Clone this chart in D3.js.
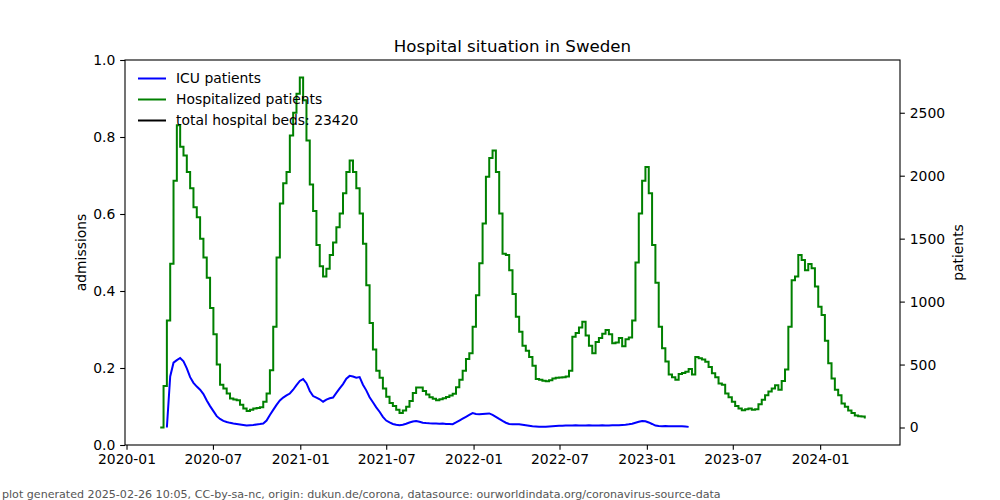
<!DOCTYPE html>
<html><head><meta charset="utf-8">
<script src="https://cdn.jsdelivr.net/npm/d3@7"></script>
<style>body{margin:0;background:#fff} svg{display:block;font-family:"DejaVu Sans",sans-serif}</style>
</head><body><svg id="c" width="1000" height="500"></svg>
<script>
// ---- data (weekly values) ----
const hospStart = "2020-03-12";
const hospitalized = [
0,330,850,1300,1960,2400,2230,2160,2030,1900,
1750,1670,1500,1350,1190,950,740,500,340,310,
270,230,222,217,180,150,132,140,151,155,
160,205,270,455,800,1350,1780,1940,2030,2320,
2500,2650,2780,2600,2280,1930,1720,1450,1280,1200,
1260,1370,1470,1590,1700,1860,2030,2120,2030,1900,
1700,1460,1130,830,620,450,395,310,245,195,
170,140,115,135,165,210,275,318,318,290,
262,240,228,217,225,232,242,255,268,320,
380,450,545,590,800,1050,1304,1620,1992,2140,
2200,2030,1700,1380,1370,1250,1060,880,760,650,
610,560,490,385,380,372,368,375,390,395,
398,400,405,450,720,750,795,840,730,650,
590,680,710,745,774,740,670,675,710,646,
700,715,850,1310,1700,1960,2070,1860,1450,1150,
800,630,525,420,400,380,424,432,442,465,
420,560,550,540,522,480,430,400,350,340,
270,240,205,170,150,138,145,150,140,145,
185,220,257,285,310,336,300,370,460,800,
1170,1200,1370,1330,1250,1298,1264,1120,960,893,
690,510,390,300,257,191,164,135,115,95,
90,88,72];
const icuStart = "2020-03-26";
const icu = [
0,405,515,535,552,525,470,400,355,325,
300,265,215,170,130,90,68,52,44,37,
32,28,24,20,16,18,20,24,27,32,
55,100,140,180,215,238,255,270,300,336,
370,385,352,290,250,237,224,205,222,232,
238,275,310,345,388,410,405,395,400,340,
295,240,200,160,125,85,55,40,28,22,
18,22,30,40,48,52,45,38,35,33,
32,31,30,32,28,27,26,40,55,70,
85,100,115,108,106,108,110,112,100,85,
68,52,38,28,26,26,26,22,18,14,
10,8,6,5,6,8,10,12,13,14,
15,16,16,17,16,15,16,17,16,15,
16,17,16,16,17,17,18,20,22,25,
30,38,45,52,50,40,28,15,12,10,
11,10,9,10,10,9,8,5];
const leftTicks = [0,0.2,0.4,0.6,0.8,1.0];
const rightTicks = [0,500,1000,1500,2000,2500];
const xTickLabels = ["2020-01","2020-07","2021-01","2021-07","2022-01","2022-07","2023-01","2023-07","2024-01"];
const seriesNames = ["ICU patients","Hospitalized patients","total hospital beds: 23420"];
const seriesColors = ["#0000ff","#008000","#000000"];
const title = "Hospital situation in Sweden";
const footer = "plot generated 2025-02-26 10:05, CC-by-sa-nc, origin: dukun.de/corona, datasource: ourworldindata.org/coronavirus-source-data";

// ---- build ----
const parse = d3.utcParse("%Y-%m-%d");
const weekly = (start, vals) => vals.map((v,i)=>({d:d3.utcDay.offset(parse(start),7*i), v}));
const hosp = weekly(hospStart, hospitalized);
const icuD = weekly(icuStart, icu);

const L=125, R=900, T=60, B=445;
const svg = d3.select("#c");
const all = hosp.concat(icuD);
const xExt = d3.extent(all, d=>d.d);
const xSpan = xExt[1]-xExt[0];
const x = d3.scaleUtc().domain([new Date(+xExt[0]-0.05*xSpan), new Date(+xExt[1]+0.05*xSpan)]).range([L,R]);
const yExt = d3.extent(all, d=>d.v);
const ySpan = yExt[1]-yExt[0];
const yR = d3.scaleLinear().domain([yExt[0]-0.05*ySpan, yExt[1]+0.05*ySpan]).range([B,T]);
const yL = d3.scaleLinear().domain([0,1]).range([B,T]);

const tk = 4.86, fs = "13.9px";
svg.append("clipPath").attr("id","clip").append("rect").attr("x",L).attr("y",T).attr("width",R-L).attr("height",B-T);

const g = svg.append("g").attr("clip-path","url(#clip)");
g.append("path").datum(hosp).attr("fill","none").attr("stroke",seriesColors[1]).attr("stroke-width",2)
 .attr("d", d3.line().curve(d3.curveStepAfter).x(d=>x(d.d)).y(d=>yR(d.v)));
g.append("path").datum(icuD).attr("fill","none").attr("stroke",seriesColors[0]).attr("stroke-width",2)
 .attr("d", d3.line().x(d=>x(d.d)).y(d=>yR(d.v)));

// frame
svg.append("rect").attr("x",L).attr("y",T).attr("width",R-L).attr("height",B-T)
  .attr("fill","none").attr("stroke","#000").attr("stroke-width",1.1);

const styleAxis = sel => { sel.select(".domain").remove(); sel.selectAll("line").attr("stroke","#000").attr("stroke-width",1.1);
  sel.selectAll("text").attr("font-size",fs).attr("fill","#000").attr("font-family","DejaVu Sans"); };

const xTicks = xTickLabels.map(s=>d3.utcParse("%Y-%m")(s));
svg.append("g").attr("transform",`translate(0,${B})`)
  .call(d3.axisBottom(x).tickValues(xTicks).tickFormat(d3.utcFormat("%Y-%m")).tickSize(tk).tickPadding(4.5))
  .call(styleAxis);
svg.append("g").attr("transform",`translate(${L},0)`)
  .call(d3.axisLeft(yL).tickValues(leftTicks).tickFormat(d3.format(".1f")).tickSize(tk).tickPadding(4.86))
  .call(styleAxis);
svg.append("g").attr("transform",`translate(${R},0)`)
  .call(d3.axisRight(yR).tickValues(rightTicks).tickFormat(d3.format("d")).tickSize(tk).tickPadding(4.86))
  .call(styleAxis);

svg.append("text").attr("x",(L+R)/2).attr("y",52).attr("text-anchor","middle").attr("font-size","16.67px").text(title);
svg.append("text").attr("transform",`translate(86,${(T+B)/2}) rotate(-90)`).attr("text-anchor","middle").attr("font-size",fs).text("admissions");
svg.append("text").attr("transform",`translate(963,${(T+B)/2}) rotate(-90)`).attr("text-anchor","middle").attr("font-size",fs).text("patients");

const lg = svg.append("g");
seriesNames.forEach((n,i)=>{
  const yy = 78.5 + i*21;
  lg.append("line").attr("x1",138).attr("x2",166).attr("y1",yy).attr("y2",yy).attr("stroke",seriesColors[i]).attr("stroke-width",2);
  lg.append("text").attr("x",176).attr("y",yy).attr("dy","0.35em").attr("font-size",fs).text(n);
});

svg.append("text").attr("x",2).attr("y",498).attr("font-size","11.1px").attr("fill","#555").text(footer);
</script></body></html>
